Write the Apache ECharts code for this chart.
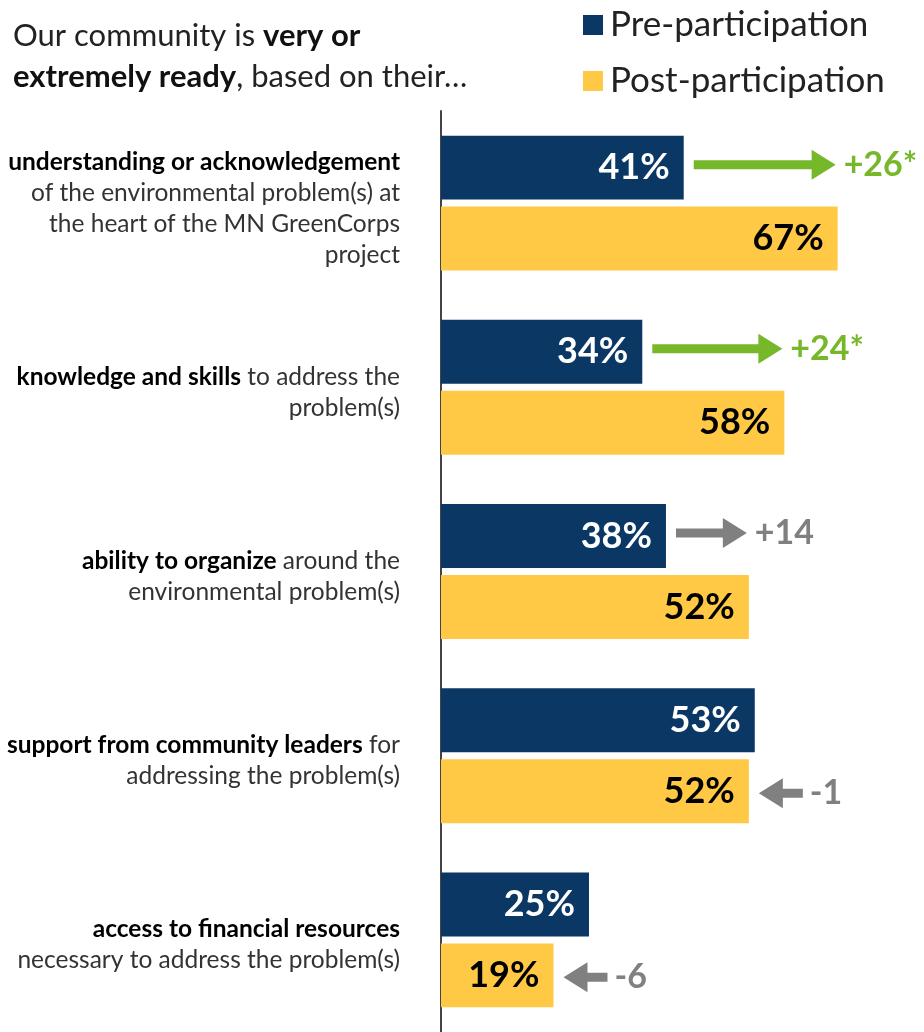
<!DOCTYPE html>
<html>
<head>
<meta charset="utf-8">
<script src="https://cdn.jsdelivr.net/npm/echarts@6/dist/echarts.min.js"></script>
<style>
  html, body { margin: 0; padding: 0; background: #fff; }
  #chart { width: 924px; height: 1032px; }
</style>
</head>
<body>
<div id="chart"></div>
<script>
// Readiness items: bold lead-in plus the remaining wrapped lines
const itemLead = [
  'understanding or acknowledgement',
  'knowledge and skills',
  'ability to organize',
  'support from community leaders',
  'access to financial resources'
];
const itemRest = [
  ['', 'of the environmental problem(s) at', 'the heart of the MN GreenCorps', 'project'],
  [' to address the', 'problem(s)'],
  [' around the', 'environmental problem(s)'],
  [' for', 'addressing the problem(s)'],
  ['', 'necessary to address the problem(s)']
];
const prePct = [41, 34, 38, 53, 25];
const postPct = [67, 58, 52, 52, 19];
const significant = [true, true, false, false, false];

const FONT = 'Lato, "Open Sans", sans-serif';
const NAVY = '#0B3764';
const GOLD = '#FFC845';
const GREEN = '#76B82A';
const GREY = '#808080';
const BAR_RATIO = 0.347;
const BAR_GAP = 0.11;

const categories = itemLead.map((lead, i) => {
  const rest = itemRest[i];
  let s = '{b|' + lead + '}' + (rest[0] ? '{n|' + rest[0] + '}' : '');
  for (let k = 1; k < rest.length; k++) s += '\n{n|' + rest[k] + '}';
  return s;
});

const changeData = prePct.map((p, i) => [i, p, postPct[i], significant[i] ? 1 : 0]);

// Change arrow: rising items point right from the pre bar to the post value,
// falling items point left next to the post bar.
function renderArrow(params, api) {
  const i = api.value(0), pre = api.value(1), post = api.value(2), sig = api.value(3);
  const band = api.size([0, 1])[1];
  const bw = band * BAR_RATIO;
  const off = (bw + bw * BAR_GAP) / 2;
  const center = api.coord([0, i])[1];
  const diff = post - pre;
  const color = sig ? GREEN : GREY;
  const text = (diff > 0 ? '+' : '') + diff + (sig ? '*' : '');
  let y, tip, tail, dir, labelX;
  const headLen = 24, headHalf = 15, shaftHalf = 4.5;
  if (diff > 0) {
    y = center - off - 3;
    tail = api.coord([pre, i])[0] + 10;
    tip = api.coord([post, i])[0] - 2;
    dir = 1;
    labelX = tip + 8;
  } else {
    y = center + off + 2;
    tip = api.coord([post, i])[0] + 10;
    tail = tip + 44;
    dir = -1;
    labelX = tail + 7;
  }
  const neck = tip - dir * headLen;
  const pts = [
    [tail, y - shaftHalf], [neck, y - shaftHalf], [neck, y - headHalf],
    [tip, y], [neck, y + headHalf], [neck, y + shaftHalf], [tail, y + shaftHalf]
  ];
  return {
    type: 'group',
    children: [
      { type: 'polygon', shape: { points: pts }, style: { fill: color } },
      { type: 'text', x: labelX, y: y, style: {
          text: text, fill: color, font: 'bold 34px ' + FONT,
          textAlign: 'left', textVerticalAlign: 'middle' } }
    ]
  };
}

const chart = echarts.init(document.getElementById('chart'), null, { renderer: 'canvas' });
chart.setOption({
  animation: false,
  backgroundColor: '#fff',
  textStyle: { fontFamily: FONT },
  title: {
    left: 8, top: 10,
    text: '{n|Our community is }{b|very or}\n{b|extremely ready}{n|, based on their\u2026}',
    textStyle: {
      rich: {
        n: { fontSize: 31, fontFamily: FONT, fontWeight: 'normal', color: '#222', lineHeight: 41 },
        b: { fontSize: 31, fontFamily: FONT, fontWeight: 'bold', color: '#111', lineHeight: 41 }
      }
    }
  },
  legend: {
    orient: 'vertical', left: 578, top: 2,
    icon: 'rect', itemWidth: 20, itemHeight: 20, itemGap: 20,
    textStyle: { fontSize: 35, lineHeight: 36, fontFamily: FONT, color: '#222', padding: [0, 0, 0, 2] },
    data: ['Pre-participation', 'Post-participation']
  },
  grid: { left: 441, top: 111, width: 473.6, height: 922 },
  xAxis: { type: 'value', min: 0, max: 80, show: false },
  yAxis: {
    type: 'category', inverse: true, data: categories,
    axisLine: { lineStyle: { color: '#444', width: 2 } },
    axisTick: { show: false },
    axisLabel: {
      margin: 41, align: 'right', padding: [10, 0, 0, 0],
      rich: {
        b: { fontSize: 24.5, fontWeight: 'bold', color: '#000', lineHeight: 31, fontFamily: FONT },
        n: { fontSize: 24.5, color: '#333', lineHeight: 31, fontFamily: FONT }
      }
    }
  },
  series: [
    {
      name: 'Pre-participation', type: 'bar', data: prePct,
      barWidth: (BAR_RATIO * 100) + '%', barGap: (BAR_GAP * 100) + '%',
      itemStyle: { color: NAVY },
      label: { show: true, position: 'insideRight', distance: 14, formatter: '{c}%',
               color: '#fff', fontSize: 36, fontWeight: 'bold', fontFamily: FONT }
    },
    {
      name: 'Post-participation', type: 'bar', data: postPct,
      barWidth: (BAR_RATIO * 100) + '%',
      itemStyle: { color: GOLD },
      label: { show: true, position: 'insideRight', distance: 14, formatter: '{c}%',
               color: '#000', fontSize: 36, fontWeight: 'bold', fontFamily: FONT }
    },
    {
      type: 'custom', name: 'change', renderItem: renderArrow, data: changeData,
      encode: { x: [1, 2], y: 0 }, silent: true, z: 5, clip: false
    }
  ]
});
</script>
</body>
</html>
